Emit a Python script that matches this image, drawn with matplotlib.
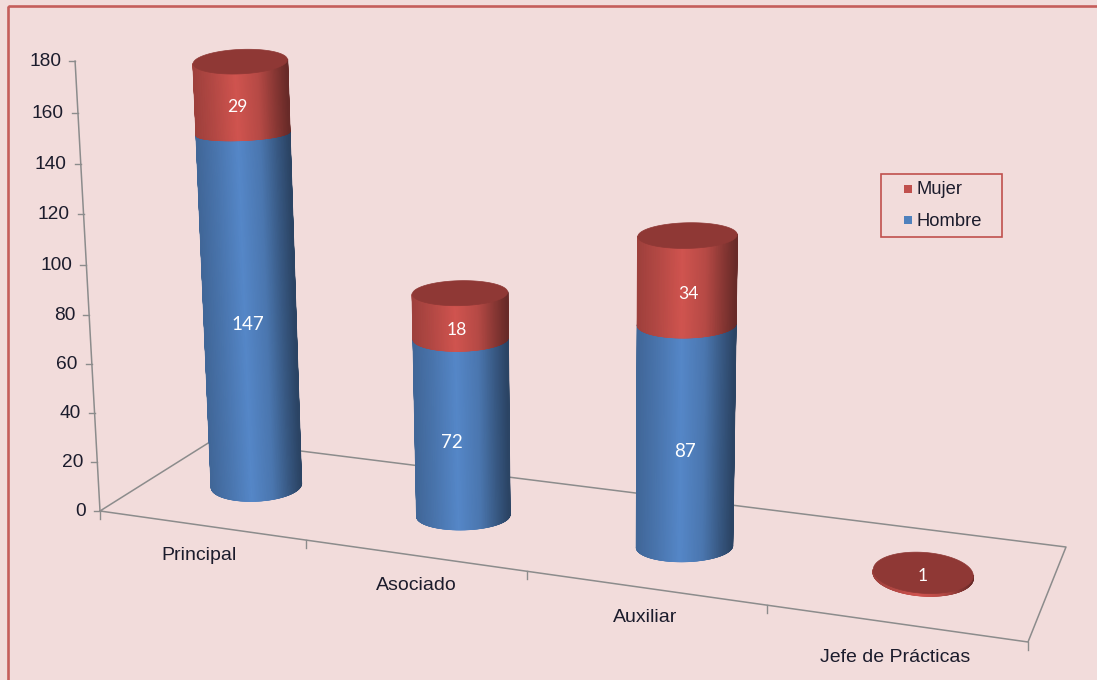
import numpy as np
import matplotlib
matplotlib.use("Agg")
import matplotlib.pyplot as plt
from matplotlib.colors import LinearSegmentedColormap, to_rgb
from matplotlib.patches import Polygon, Rectangle

plt.rcParams['font.family'] = ['Liberation Sans', 'DejaVu Sans']

categorias = ["Principal", "Asociado", "Auxiliar", "Jefe de Prácticas"]
hombre = [147, 72, 87, 0]
mujer = [29, 18, 34, 1]
ticks_y = [0, 20, 40, 60, 80, 100, 120, 140, 160, 180]

FONDO = "#f2dcdb"
BORDE = "#c0504d"
GRIS = "#8c8c8c"
TEXTO = "#1c1c2c"

# esquinas del piso en pixeles (frente-izq, frente-der, fondo-der, fondo-izq)
esquinas = np.array([[100, 511], [1028, 642], [1066, 547], [213, 440]], dtype=float)
VP_X, VP_Y = 598.0, 9500.0

# ajustes a ojo por categoria
centro_u = [0.492, 0.514, 0.517, 0.507]
centro_v = [0.515, 0.485, 0.47, 0.5]
radio_x = [45, 46.5, 48, 50]
radio_y = [15.5, 14, 15, 20.5]
inclina = [-2, -1, -1, 3]
plano = [0.55, 1, 1, 1]  # curva de la union azul/rojo
pos_cat = [(199, 555.5), (416, 586), (645, 617), (895, 657)]
off_hombre = [(-2, 12), (-8, 16), (1, 18), (0, 0)]
off_mujer = [(-4, 9), (-2, 15), (3, 16), (1, 2)]


def homografia(dst):
    src = [(0, 0), (4, 0), (4, 1), (0, 1)]
    A, b = [], []
    for (u, v), (x, y) in zip(src, dst):
        A.append([u, v, 1, 0, 0, 0, -u * x, -v * x])
        A.append([0, 0, 0, u, v, 1, -u * y, -v * y])
        b += [x, y]
    h = np.linalg.solve(np.array(A), np.array(b))
    return np.append(h, 1).reshape(3, 3)


H = homografia(esquinas)


def piso(u, v):
    u, v = np.asarray(u, float), np.asarray(v, float)
    w = H[2, 0] * u + H[2, 1] * v + 1
    return (H[0, 0] * u + H[0, 1] * v + H[0, 2]) / w, (H[1, 0] * u + H[1, 1] * v + H[1, 2]) / w


def subir(x, y, y_ref, z):
    # altura con perspectiva: las verticales convergen hacia abajo
    k = 0.0014 if y_ref < 511 else 0.0011
    px = z * (2.42 + 0.00044 * z) * (1 + (y_ref - 511) * k)
    dx = (VP_X - x) / (VP_Y - y_ref) * -px
    return x + dx, y - px


def elipse(i, z, f=1.0):
    cx, cy = piso(i + centro_u[i], centro_v[i])
    ang = np.linspace(0, 2 * np.pi, 361)
    x = cx + radio_x[i] * np.cos(ang)
    y = cy + f * radio_y[i] * (1 - 0.0012 * z) * np.sin(ang) + inclina[i] * np.cos(ang)
    return subir(x, y, cy, z)


def mapa(col):
    # sombreado del cilindro de izquierda a derecha
    base = np.array(to_rgb(col))
    t = [0, 0.2, 0.45, 0.7, 0.88, 1]
    f = [0.76, 0.86, 1.0, 0.87, 0.64, 0.5]
    return LinearSegmentedColormap.from_list("c", [(a, tuple(base * b)) for a, b in zip(t, f)])


def cilindro(ax, i, z0, z1, color, tapa=None):
    xb, yb = elipse(i, z0, plano[i] if z0 > 0 else 1.0)
    xt, yt = elipse(i, z1, 1.0 if tapa else plano[i])
    # mitad delantera, de izquierda a derecha
    idx = np.arange(0, 181)[::-1]
    X = np.vstack([xb[idx], xt[idx]])
    Y = np.vstack([yb[idx], yt[idx]])
    t = (xb[idx] - xb[idx].min()) / (xb[idx].max() - xb[idx].min())
    cmap = mapa(color)
    z = 3 + i + z0 / 1000
    ax.pcolormesh(X, Y, np.vstack([t, t]), cmap=cmap, vmin=0, vmax=1, shading="gouraud",
                  zorder=z)
    # bordes con antialias para tapar el dentado de la malla
    ax.plot(X[:, 0], Y[:, 0], color=cmap(0.0), lw=1.1, zorder=z + 0.001)
    ax.plot(X[:, -1], Y[:, -1], color=cmap(1.0), lw=1.1, zorder=z + 0.001)
    if tapa:
        ax.add_patch(Polygon(np.c_[xt, yt], closed=True, fc=tapa, ec=tapa, lw=0.5,
                             zorder=3 + i + 0.9))
    for a, b in zip(range(len(idx) - 1), range(1, len(idx))):
        ax.plot(X[0, [a, b]], Y[0, [a, b]], color=cmap(t[a]), lw=0.9, zorder=z + 0.001,
                solid_capstyle="round")


fig = plt.figure(figsize=(10.97, 6.80), dpi=100, facecolor=FONDO)
ax = fig.add_axes([0, 0, 1, 1])

# marco
ax.add_patch(Rectangle((7.5, 5.5), 1100, 690, fc="none", ec=BORDE, lw=1.9, alpha=0.9))

# piso y eje
c = np.vstack([esquinas, esquinas[:1]])
ax.plot(c[:, 0], c[:, 1], color=GRIS, lw=1.1, zorder=1)
for i in range(len(categorias) + 1):
    x, y = piso(i, 0)
    ax.plot([x, x], [y, y + 8], color=GRIS, lw=1.0, zorder=1)

tz = np.array(ticks_y, float)
x_eje, y_eje = subir(np.full(len(tz), esquinas[0, 0]), np.full(len(tz), esquinas[0, 1]), esquinas[0, 1], tz)
ax.plot(x_eje, y_eje, color=GRIS, lw=1.1, zorder=1)
for t, x, y in zip(ticks_y, x_eje, y_eje):
    ax.plot([x - 6, x], [y, y], color=GRIS, lw=1.0, zorder=1)
    ax.text(x - 14, y + 0.5, str(t), ha="right", va="center", fontsize=13.8, color=TEXTO)

# etiquetas de categoria
for nombre, (x, y) in zip(categorias, pos_cat):
    ax.text(x, y, nombre, ha="center", va="center", fontsize=14, color=TEXTO)

# columnas apiladas
for i, (h, m) in enumerate(zip(hombre, mujer)):
    cx, cy = piso(i + 0.5, 0.5)
    if h > 0:
        cilindro(ax, i, 0, h, "#5587c8")
        x, y = subir(cx, cy, cy, h / 2)
        ax.text(x + off_hombre[i][0], y + off_hombre[i][1], str(h), ha="center", va="center",
                color="white", fontsize=13.5, zorder=20, family="Lato")
    cilindro(ax, i, h, h + m, "#d0544f", tapa="#8f3835")
    x, y = subir(cx, cy, cy, h + m / 2)
    ax.text(x + off_mujer[i][0], y + off_mujer[i][1], str(m), ha="center", va="center",
            color="white", fontsize=12.6, zorder=20, family="Lato")

# leyenda
ax.add_patch(Rectangle((881, 174), 121, 63, fc="none", ec=BORDE, lw=1.2))
ax.add_patch(Rectangle((904, 185), 8, 8, fc="#c0504d", ec="none"))
ax.add_patch(Rectangle((904, 216), 8, 8, fc="#4f81bd", ec="none"))
ax.text(917, 190, "Mujer", va="center", fontsize=13.2, color=TEXTO)
ax.text(917, 222, "Hombre", va="center", fontsize=13.2, color=TEXTO)

ax.set_xlim(0, 1097)
ax.set_ylim(680, 0)
ax.axis("off")

fig.savefig("out.png", dpi=100, facecolor=FONDO)
